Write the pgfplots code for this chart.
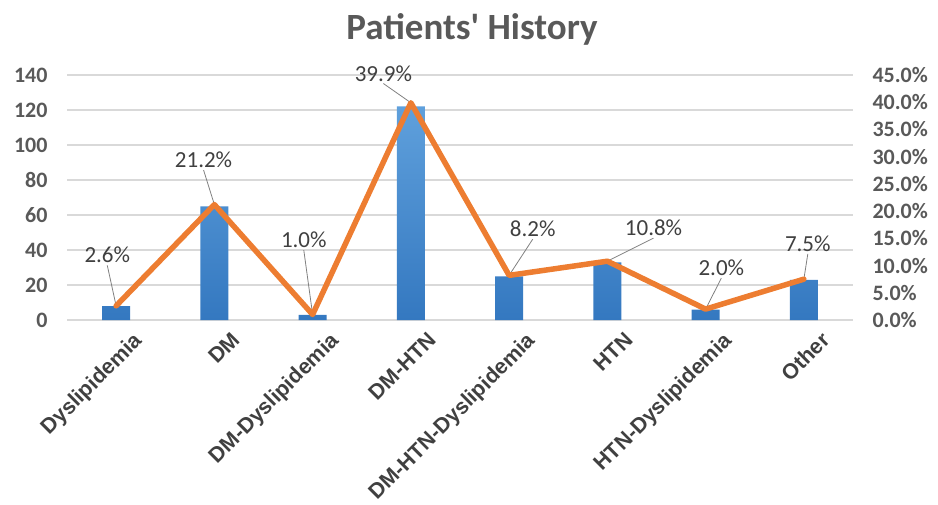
\documentclass[border=0pt]{standalone}
\usepackage{pgfplots}
\pgfplotsset{compat=1.18}
\usepackage{fontspec}
\setmainfont{Carlito}
\newfontfamily\arialfont{Liberation Sans}
\definecolor{txtgray}{HTML}{595959}
\definecolor{lblgray}{HTML}{404040}
\definecolor{gridgray}{HTML}{D9D9D9}
\definecolor{barTop}{HTML}{5FA0DC}
\definecolor{barBot}{HTML}{3478C0}
\definecolor{lineor}{HTML}{ED7D31}
\begin{document}
\begin{tikzpicture}
\path[use as bounding box] (0,0) rectangle (938pt,504pt);
\node[font=\fontsize{37}{42}\selectfont\bfseries, text=txtgray, anchor=base] at (472pt,464pt) {Patients\textquotesingle\ History};
\begin{axis}[
  at={(67pt,184pt)}, anchor=south west,
  width=786pt, height=245pt, scale only axis,
  xmin=-0.5, xmax=7.5, ymin=0, ymax=140,
  ytick={0,20,...,140},
  xtick={0,...,7},
  xticklabels={Dyslipidemia,DM,DM-Dyslipidemia,DM-HTN,DM-HTN-Dyslipidemia,HTN,HTN-Dyslipidemia,Other},
  xticklabel style={rotate=45, anchor=north east, font=\arialfont\fontsize{21.5}{23}\selectfont\bfseries, text=lblgray, inner sep=0pt, xshift=4pt, yshift=-19pt},
  yticklabel style={font=\fontsize{22}{24}\selectfont\bfseries, text=txtgray},
  /pgf/number format/assume math mode=true,
  ymajorgrids, grid style={gridgray, line width=1.2pt},
  axis line style={draw=none},
  major tick length=0pt,
  yticklabel shift=16pt,
]
\addplot[ybar, bar width=28pt, draw=none, top color=barTop, bottom color=barBot] coordinates {
(0,8) (1,65) (2,3) (3,122) (4,25) (5,33) (6,6) (7,23)};
\end{axis}
\begin{axis}[
  at={(67pt,184pt)}, anchor=south west,
  width=786pt, height=245pt, scale only axis,
  xmin=-0.5, xmax=7.5, ymin=0, ymax=45,
  axis y line*=right, axis x line=none,
  ytick={0,5,...,45},
  yticklabel={\pgfmathprintnumber[fixed,fixed zerofill,precision=1]{\tick}\%},
  yticklabel style={font=\fontsize{22}{24}\selectfont\bfseries, text=txtgray, anchor=west},
  /pgf/number format/assume math mode=true,
  axis line style={draw=none},
  major tick length=0pt,
  yticklabel shift=16pt,
  clip=false,
]
\tikzset{dl/.style={font=\fontsize{23}{26}\selectfont, text=lblgray, inner sep=2pt}, ll/.style={draw=gray, line width=0.8pt}}
\node[dl] (a) at (axis cs:-0.09,11.9) {2.6\%};
\node[dl] (b) at (axis cs:0.89,29.4) {21.2\%};
\node[dl] (c) at (axis cs:1.91,14.7) {1.0\%};
\node[dl] (d) at (axis cs:2.72,45.3) {39.9\%};
\node[dl] (e) at (axis cs:4.24,16.7) {8.2\%};
\node[dl] (f) at (axis cs:5.47,16.9) {10.8\%};
\node[dl] (g) at (axis cs:6.16,9.55) {2.0\%};
\node[dl] (h) at (axis cs:7.04,14.0) {7.5\%};
\draw[ll] (a.south) -- (axis cs:0,2.6);
\draw[ll] (b.south) -- (axis cs:1,21.2);
\draw[ll] (c.south) -- (axis cs:2,1.0);
\draw[ll] (d.south) -- (axis cs:3,39.9);
\draw[ll] (e.south) -- (axis cs:4,8.2);
\draw[ll] (f.south) -- (axis cs:5,10.8);
\draw[ll] (g.south) -- (axis cs:6,2.0);
\draw[ll] (h.south) -- (axis cs:7,7.5);
\addplot[lineor, line width=5.5pt, line join=round, line cap=round] coordinates {
(0,2.6) (1,21.2) (2,1.0) (3,39.9) (4,8.2) (5,10.8) (6,2.0) (7,7.5)};
\end{axis}
\end{tikzpicture}
\end{document}
